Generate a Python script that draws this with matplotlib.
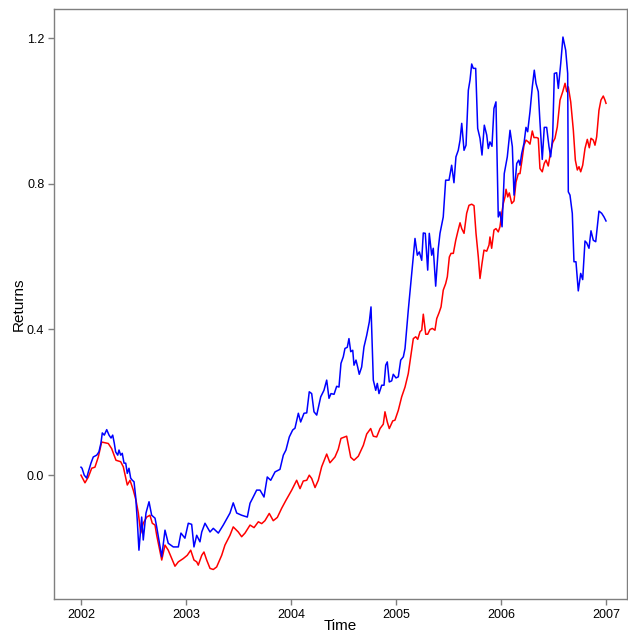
import matplotlib
matplotlib.use("Agg")
import matplotlib.pyplot as plt
from matplotlib.ticker import FormatStrFormatter

plt.rcParams['font.family'] = ['Liberation Sans', 'DejaVu Sans']

# blue series (time in decimal years, returns)
blue_t = [2002.000, 2002.010, 2002.031, 2002.054, 2002.070, 2002.095, 2002.117, 2002.150, 2002.171, 2002.190,
          2002.203, 2002.222, 2002.245, 2002.267, 2002.286, 2002.302, 2002.317, 2002.330, 2002.350, 2002.362,
          2002.378, 2002.393, 2002.410, 2002.426, 2002.441, 2002.457, 2002.473, 2002.489, 2002.505, 2002.521,
          2002.536, 2002.552, 2002.578, 2002.593, 2002.619, 2002.648, 2002.673, 2002.705, 2002.721, 2002.769,
          2002.800, 2002.831, 2002.879, 2002.927, 2002.952, 2002.990, 2003.022, 2003.054, 2003.076, 2003.102,
          2003.133, 2003.150, 2003.181, 2003.229, 2003.260, 2003.308, 2003.355, 2003.419, 2003.450, 2003.483,
          2003.530, 2003.584, 2003.610, 2003.635, 2003.673, 2003.705, 2003.743, 2003.774, 2003.807, 2003.848,
          2003.895, 2003.927, 2003.952, 2003.984, 2004.016, 2004.038, 2004.070, 2004.092, 2004.124, 2004.150,
          2004.174, 2004.197, 2004.219, 2004.245, 2004.283, 2004.314, 2004.340, 2004.362, 2004.381, 2004.410,
          2004.435, 2004.457, 2004.476, 2004.498, 2004.514, 2004.536, 2004.552, 2004.569, 2004.588, 2004.600,
          2004.619, 2004.635, 2004.650, 2004.673, 2004.695, 2004.721, 2004.746, 2004.762, 2004.784, 2004.807,
          2004.822, 2004.838, 2004.864, 2004.886, 2004.902, 2004.917, 2004.936, 2004.959, 2004.974, 2005.000,
          2005.022, 2005.045, 2005.070, 2005.086, 2005.117, 2005.150, 2005.181, 2005.203, 2005.222, 2005.245,
          2005.260, 2005.279, 2005.302, 2005.317, 2005.340, 2005.355, 2005.378, 2005.403, 2005.419, 2005.450,
          2005.473, 2005.505, 2005.530, 2005.552, 2005.571, 2005.593, 2005.610, 2005.626, 2005.648, 2005.667,
          2005.689, 2005.705, 2005.721, 2005.736, 2005.759, 2005.778, 2005.800, 2005.819, 2005.841, 2005.864,
          2005.879, 2005.895, 2005.914, 2005.933, 2005.952, 2005.974, 2005.990, 2006.010, 2006.031, 2006.060,
          2006.086, 2006.108, 2006.124, 2006.150, 2006.169, 2006.181, 2006.197, 2006.219, 2006.238, 2006.254,
          2006.276, 2006.298, 2006.317, 2006.333, 2006.355, 2006.371, 2006.393, 2006.412, 2006.435, 2006.457,
          2006.473, 2006.492, 2006.508, 2006.530, 2006.546, 2006.569, 2006.590, 2006.616, 2006.635, 2006.641,
          2006.657, 2006.679, 2006.695, 2006.714, 2006.736, 2006.759, 2006.778, 2006.800, 2006.816, 2006.838,
          2006.857, 2006.879, 2006.902, 2006.933, 2006.959, 2006.981, 2007.000]
blue_r = [0.022, 0.019, 0.000, -0.008, 0.009, 0.033, 0.050, 0.055, 0.064, 0.088,
          0.116, 0.110, 0.125, 0.110, 0.102, 0.110, 0.088, 0.064, 0.055, 0.069,
          0.055, 0.060, 0.033, 0.033, 0.005, 0.019, -0.008, -0.014, -0.018, -0.060,
          -0.124, -0.206, -0.115, -0.178, -0.104, -0.073, -0.110, -0.118, -0.142, -0.224,
          -0.151, -0.187, -0.197, -0.197, -0.159, -0.173, -0.132, -0.135, -0.197, -0.165,
          -0.183, -0.156, -0.132, -0.156, -0.146, -0.159, -0.137, -0.104, -0.076, -0.104,
          -0.110, -0.115, -0.077, -0.063, -0.041, -0.041, -0.060, -0.005, -0.014, 0.009,
          0.016, 0.055, 0.069, 0.105, 0.124, 0.129, 0.170, 0.146, 0.170, 0.171,
          0.229, 0.224, 0.174, 0.165, 0.215, 0.233, 0.261, 0.211, 0.224, 0.222,
          0.244, 0.242, 0.307, 0.325, 0.348, 0.351, 0.375, 0.339, 0.343, 0.302,
          0.316, 0.297, 0.277, 0.297, 0.352, 0.384, 0.421, 0.462, 0.261, 0.233,
          0.252, 0.224, 0.247, 0.247, 0.302, 0.311, 0.256, 0.259, 0.277, 0.267,
          0.270, 0.316, 0.325, 0.348, 0.453, 0.554, 0.650, 0.604, 0.613, 0.590,
          0.665, 0.664, 0.563, 0.664, 0.604, 0.623, 0.519, 0.623, 0.664, 0.709,
          0.810, 0.810, 0.851, 0.803, 0.874, 0.892, 0.920, 0.966, 0.892, 0.906,
          1.057, 1.085, 1.129, 1.117, 1.117, 0.952, 0.925, 0.879, 0.961, 0.934,
          0.897, 0.915, 0.903, 1.007, 1.025, 0.709, 0.723, 0.682, 0.828, 0.874,
          0.947, 0.902, 0.769, 0.856, 0.865, 0.851, 0.883, 0.911, 0.955, 0.943,
          0.998, 1.066, 1.112, 1.076, 1.053, 0.970, 0.867, 0.955, 0.955, 0.902,
          0.874, 0.929, 1.103, 1.105, 1.062, 1.131, 1.203, 1.167, 1.103, 0.778,
          0.769, 0.719, 0.586, 0.586, 0.506, 0.554, 0.537, 0.643, 0.638, 0.623,
          0.671, 0.645, 0.641, 0.725, 0.719, 0.709, 0.698]

# red series
red_t = [2002.000, 2002.038, 2002.070, 2002.102, 2002.133, 2002.165, 2002.197, 2002.260, 2002.292, 2002.333,
         2002.378, 2002.403, 2002.441, 2002.467, 2002.498, 2002.524, 2002.546, 2002.569, 2002.593, 2002.626,
         2002.657, 2002.679, 2002.705, 2002.721, 2002.769, 2002.800, 2002.831, 2002.895, 2002.927, 2002.974,
         2003.012, 2003.045, 2003.076, 2003.102, 2003.117, 2003.150, 2003.171, 2003.197, 2003.229, 2003.260,
         2003.292, 2003.340, 2003.371, 2003.419, 2003.450, 2003.498, 2003.530, 2003.562, 2003.610, 2003.648,
         2003.689, 2003.721, 2003.752, 2003.793, 2003.831, 2003.870, 2003.911, 2003.952, 2004.007, 2004.054,
         2004.086, 2004.117, 2004.150, 2004.174, 2004.197, 2004.229, 2004.260, 2004.292, 2004.340, 2004.371,
         2004.419, 2004.450, 2004.476, 2004.530, 2004.569, 2004.600, 2004.641, 2004.689, 2004.721, 2004.759,
         2004.784, 2004.816, 2004.848, 2004.879, 2004.895, 2004.917, 2004.936, 2004.969, 2004.990, 2005.022,
         2005.054, 2005.086, 2005.117, 2005.140, 2005.165, 2005.188, 2005.207, 2005.229, 2005.245, 2005.260,
         2005.283, 2005.302, 2005.324, 2005.346, 2005.371, 2005.388, 2005.410, 2005.429, 2005.450, 2005.473,
         2005.489, 2005.508, 2005.524, 2005.546, 2005.569, 2005.588, 2005.610, 2005.626, 2005.648, 2005.673,
         2005.695, 2005.721, 2005.743, 2005.762, 2005.784, 2005.800, 2005.819, 2005.838, 2005.864, 2005.886,
         2005.895, 2005.911, 2005.933, 2005.952, 2005.974, 2005.990, 2006.007, 2006.022, 2006.038, 2006.048,
         2006.064, 2006.079, 2006.102, 2006.124, 2006.143, 2006.165, 2006.181, 2006.200, 2006.219, 2006.238,
         2006.260, 2006.276, 2006.298, 2006.314, 2006.340, 2006.355, 2006.371, 2006.393, 2006.412, 2006.429,
         2006.450, 2006.473, 2006.492, 2006.514, 2006.536, 2006.562, 2006.588, 2006.610, 2006.626, 2006.641,
         2006.664, 2006.689, 2006.708, 2006.727, 2006.743, 2006.759, 2006.778, 2006.800, 2006.822, 2006.841,
         2006.857, 2006.879, 2006.895, 2006.911, 2006.933, 2006.952, 2006.974, 2006.990, 2007.000]
red_r = [0.000, -0.021, -0.005, 0.019, 0.022, 0.050, 0.091, 0.087, 0.073, 0.041,
         0.037, 0.023, -0.027, -0.014, -0.041, -0.069, -0.104, -0.159, -0.132, -0.115,
         -0.110, -0.132, -0.137, -0.165, -0.233, -0.192, -0.206, -0.250, -0.238, -0.229,
         -0.220, -0.206, -0.233, -0.238, -0.247, -0.220, -0.211, -0.233, -0.256, -0.259,
         -0.252, -0.220, -0.192, -0.165, -0.142, -0.156, -0.169, -0.159, -0.137, -0.144,
         -0.128, -0.133, -0.125, -0.105, -0.125, -0.116, -0.091, -0.069, -0.041, -0.014,
         -0.037, -0.016, -0.014, 0.000, -0.009, -0.034, -0.014, 0.023, 0.058, 0.034,
         0.050, 0.071, 0.101, 0.107, 0.049, 0.041, 0.052, 0.082, 0.113, 0.128,
         0.107, 0.105, 0.128, 0.140, 0.174, 0.146, 0.128, 0.149, 0.151, 0.178,
         0.215, 0.242, 0.279, 0.325, 0.375, 0.380, 0.373, 0.394, 0.398, 0.442,
         0.387, 0.387, 0.400, 0.403, 0.398, 0.430, 0.446, 0.462, 0.508, 0.526,
         0.545, 0.599, 0.609, 0.609, 0.645, 0.668, 0.693, 0.677, 0.664, 0.719,
         0.741, 0.744, 0.740, 0.664, 0.599, 0.540, 0.581, 0.618, 0.615, 0.632,
         0.654, 0.623, 0.673, 0.677, 0.668, 0.682, 0.719, 0.746, 0.764, 0.785,
         0.764, 0.775, 0.746, 0.753, 0.805, 0.828, 0.828, 0.865, 0.906, 0.920,
         0.915, 0.909, 0.945, 0.927, 0.927, 0.925, 0.842, 0.833, 0.856, 0.865,
         0.849, 0.888, 0.913, 0.925, 0.956, 1.030, 1.053, 1.076, 1.053, 1.066,
         1.025, 0.947, 0.865, 0.838, 0.847, 0.833, 0.851, 0.897, 0.922, 0.899,
         0.925, 0.920, 0.906, 0.929, 1.002, 1.030, 1.041, 1.030, 1.021]

years = [2002, 2003, 2004, 2005, 2006, 2007]
yticks = [0.0, 0.4, 0.8, 1.2]

fig = plt.figure(figsize=(6.28, 6.33), dpi=100)
ax = fig.add_axes([54 / 628, 1 - 599 / 633, 573 / 628, 590 / 633])

ax.plot(red_t, red_r, color='red', linewidth=1.1)
ax.plot(blue_t, blue_r, color='blue', linewidth=1.1)

ax.set_xlim(2001.743, 2007.2)
ax.set_ylim(-0.34, 1.28)
ax.set_xticks(years)
ax.set_yticks(yticks)
ax.yaxis.set_major_formatter(FormatStrFormatter('%.1f'))

for s in ax.spines.values():
    s.set_color('#7f7f7f')
    s.set_linewidth(1.0)
ax.tick_params(direction='out', length=4, width=1, color='#7f7f7f', labelsize=9, labelcolor='black', pad=3)

ax.set_xlabel('Time', fontsize=11, labelpad=-1)
ax.set_ylabel('Returns', fontsize=11, labelpad=1)

fig.savefig('out.png', dpi=100)
